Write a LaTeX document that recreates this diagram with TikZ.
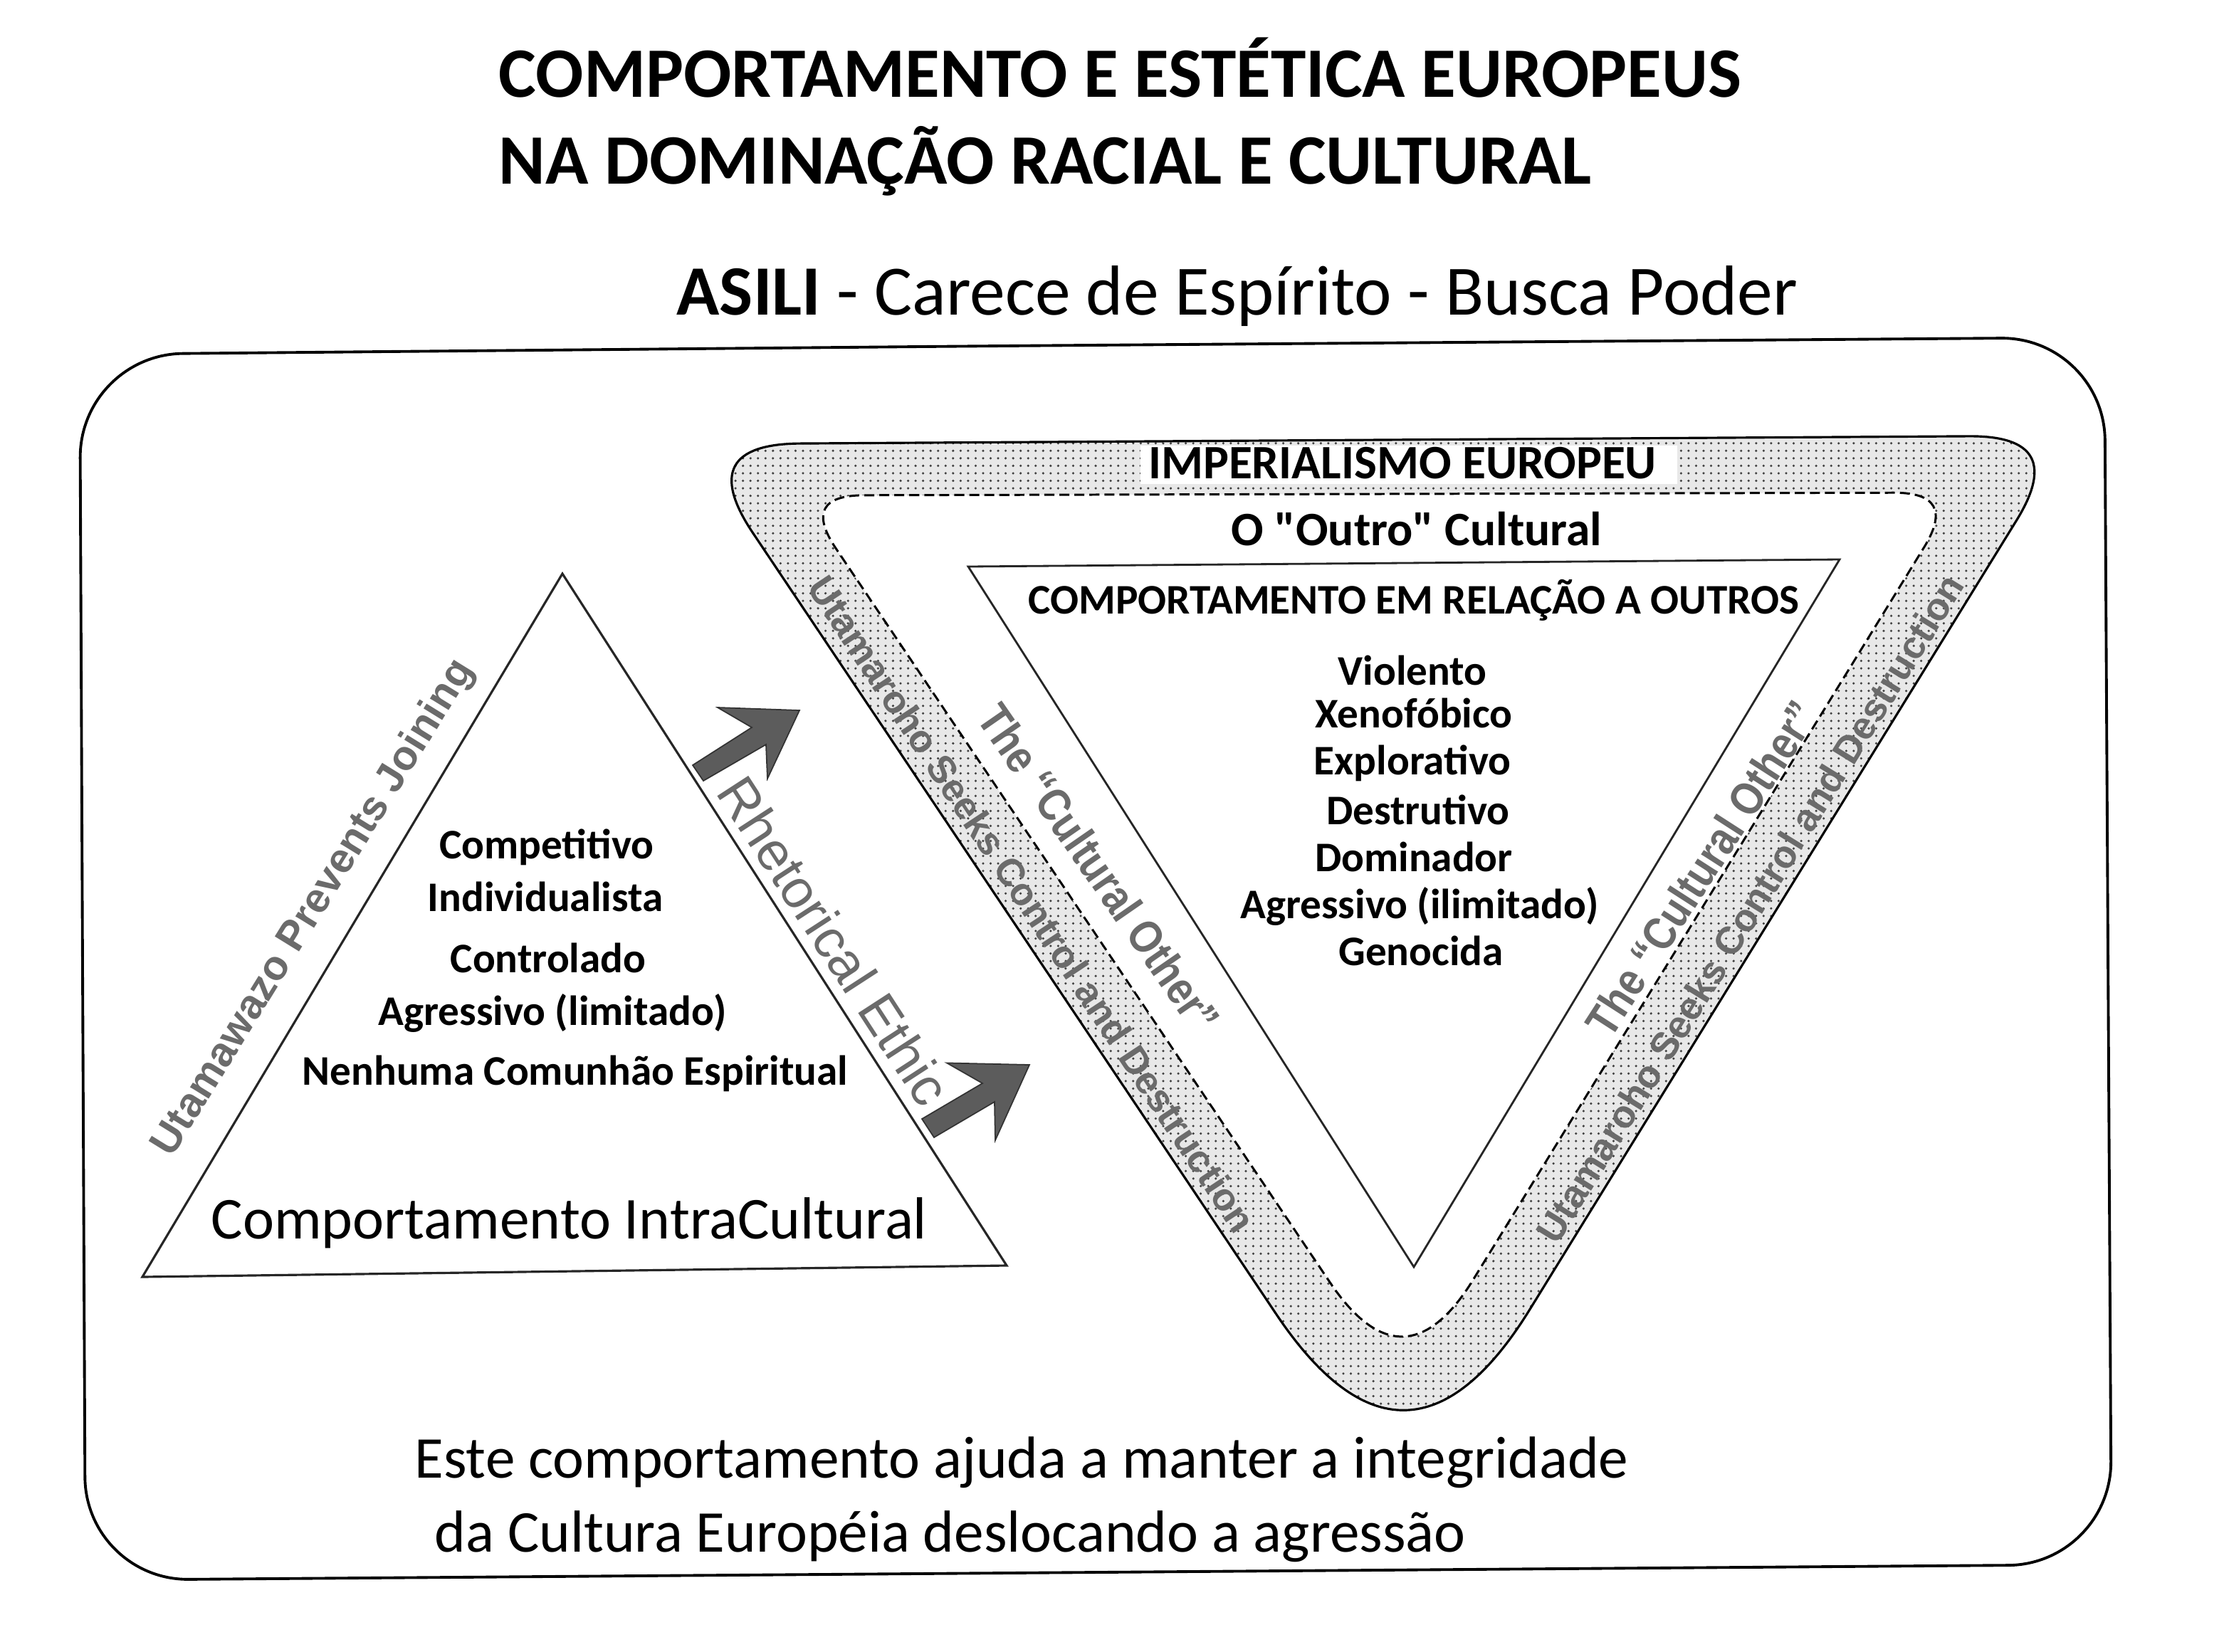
\documentclass[tikz,border=0pt]{standalone}
\usepackage{fontspec}
\setmainfont{Carlito}
\newfontfamily\arialf{Liberation Sans}
\newfontfamily\arialc{Liberation Sans}[FakeStretch=0.86]
\font\carlbq="Carlito Bold" at 19.2pt
\usetikzlibrary{patterns,calc}
\definecolor{rotgray}{gray}{0.42}
\definecolor{arrowgray}{gray}{0.36}
\begin{document}
\begin{tikzpicture}[x=0.02cm,y=-0.02cm,
  every node/.style={inner sep=0pt},
  titlef/.style={anchor=base west,font=\bfseries\fontsize{28.35}{30}\selectfont},
  bigreg/.style={anchor=base west,font=\fontsize{23.75}{26}\selectfont},
  listf/.style={anchor=base,font=\bfseries\fontsize{16.85}{20}\selectfont},
  headf/.style={anchor=base,font=\bfseries\fontsize{19.2}{22}\selectfont},
  rottext/.style={text=rotgray,font=\arialf\bfseries\fontsize{15.4}{18}\selectfont},
  othertext/.style={text=rotgray,font=\arialc\bfseries\fontsize{18.4}{20}\selectfont},
  thinline/.style={line width=0.8pt,draw=black!85},
  arrowshape/.style={fill=arrowgray,draw=black!80,line width=0.5pt,line join=miter}
]
\useasboundingbox (0,0) rectangle (1562,1160);

% titles
\node[titlef] (t1) at (350,68) {COMPORTAMENTO E ESTÉTICA EUROPEUS};
\node[titlef] (t2) at (350,129) {NA DOMINAÇÃO RACIAL E CULTURAL};
\node[anchor=base west,font=\fontsize{28.3}{30}\selectfont] (t3) at (475,221) {\textbf{ASILI} - Carece de Espírito - Busca Poder};

% outer frame
\draw[line width=1.1pt,rounded corners=1.45cm] (700,243) -- (1478,237) -- (1483,1099) -- (60,1110) -- (56,249) -- cycle;

% left triangle
\coordinate (LA) at (395,403);
\coordinate (LR) at (707,889);
\coordinate (LL) at (100,897);
\draw[thinline,line width=0.9pt] (LA) -- (LR) -- (LL) -- cycle;

% stippled band: outer corners and inner (dashed) corners
\coordinate (OA) at (487,312);
\coordinate (OB) at (1453,306);
\coordinate (OC) at (988,1060);
\coordinate (IA) at (562,348);
\coordinate (IB) at (1375,346);
\coordinate (IC) at (986,978);

\path[save path=\outerp]
  ($(OA)!1.5cm!(OB)$) -- ($(OB)!1.4cm!(OA)$)
  .. controls ($(OB)!0.467cm!(OA)$) and ($(OB)!0.467cm!(OC)$) .. ($(OB)!1.4cm!(OC)$)
  -- ($(OC)!3.3cm!(OB)$)
  .. controls ($(OC)!1.1cm!(OB)$) and ($(OC)!1.1cm!(OA)$) .. ($(OC)!3.3cm!(OA)$)
  -- ($(OA)!1.5cm!(OC)$)
  .. controls ($(OA)!0.5cm!(OC)$) and ($(OA)!0.5cm!(OB)$) .. ($(OA)!1.5cm!(OB)$) -- cycle;
\path[save path=\innerp]
  ($(IA)!0.9cm!(IB)$) -- ($(IB)!0.9cm!(IA)$)
  .. controls ($(IB)!0.3cm!(IA)$) and ($(IB)!0.3cm!(IC)$) .. ($(IB)!0.9cm!(IC)$)
  -- ($(IC)!1.86cm!(IB)$)
  .. controls ($(IC)!0.62cm!(IB)$) and ($(IC)!0.62cm!(IA)$) .. ($(IC)!1.86cm!(IA)$)
  -- ($(IA)!0.9cm!(IC)$)
  .. controls ($(IA)!0.3cm!(IC)$) and ($(IA)!0.3cm!(IB)$) .. ($(IA)!0.9cm!(IB)$) -- cycle;

\fill[black!9,use path=\outerp];
\fill[pattern=dots,pattern color=black!75,use path=\outerp];
\fill[white,use path=\innerp];
\draw[line width=0.9pt,use path=\outerp];
\draw[line width=0.85pt,dash pattern=on 4pt off 2pt,use path=\innerp];

% inner triangle
\coordinate (RA) at (680,398);
\coordinate (RB) at (1292,393);
\coordinate (RC) at (993,890);
\draw[thinline] (RA) -- (RB) -- (RC) -- cycle;

% band label
\fill[white] (801,313) rectangle (1178,340);
\node[headf] (imp) at (985,336) {IMPERIALISMO EUROPEU};
\node[anchor=base] (outro) at (995,383) {\carlbq O "Outro" Cultural};
\node[listf] (comp) at (993,431) {COMPORTAMENTO EM RELAÇÃO A OUTROS};

% right list
\node[listf] (r1) at (992,481) {Violento};
\node[listf] (r2) at (993,511) {Xenofóbico};
\node[listf] (r3) at (992,544) {Explorativo};
\node[listf] (r4) at (996,579) {Destrutivo};
\node[listf] (r5) at (993,612) {Dominador};
\node[listf] (r6) at (997,645) {Agressivo (ilimitado)};
\node[listf] (r7) at (998,678) {Genocida};

% left list
\node[listf] (l1) at (384,603) {Competitivo};
\node[listf] (l2) at (383,640) {Individualista};
\node[listf] (l3) at (385,683) {Controlado};
\node[listf] (l4) at (388,720) {Agressivo (limitado)};
\node[listf] (l5) at (404,762) {Nenhuma Comunhão Espiritual};
\node[bigreg] (intra) at (148,870) {Comportamento IntraCultural};

% rotated labels
\node[rottext,font=\arialf\bfseries\fontsize{16.6}{18}\selectfont,rotate=58.3] (uw) at (220.5,638) {Utamawazo Prevents Joining};
\node[rottext,font=\arialf\fontsize{21.6}{24}\selectfont,rotate=-57] (rh) at (586,661) {Rhetorical Ethic};
\node[rottext,rotate=-56.5] (ul) at (725,635) {Utamaroho Seeks Control and Destruction};
\node[othertext,rotate=-55.3] (cl) at (772,610) {The “Cultural Other”};
\node[othertext,rotate=57.2] (cr) at (1195,610) {The “Cultural Other”};
\node[rottext,rotate=58.3] (ur) at (1229,638) {Utamaroho Seeks Control and Destruction};

% arrows
\filldraw[arrowshape] (486.5,537.5) -- (528,511) -- (504,497) -- (561.5,499) -- (539,547) -- (538,523) -- (494,548.5) -- cycle;
\filldraw[arrowshape] (647.5,786) -- (690,761) -- (665,746.7) -- (723,748) -- (699,801) -- (698.5,774) -- (656,799) -- cycle;

% bottom text
\node[bigreg,font=\fontsize{23.7}{26}\selectfont] (b1) at (291,1038) {Este comportamento ajuda a manter a integridade};
\node[bigreg,font=\fontsize{23.7}{26}\selectfont] (b2) at (305,1090) {da Cultura Européia deslocando a agressão};
\end{tikzpicture}
\end{document}
